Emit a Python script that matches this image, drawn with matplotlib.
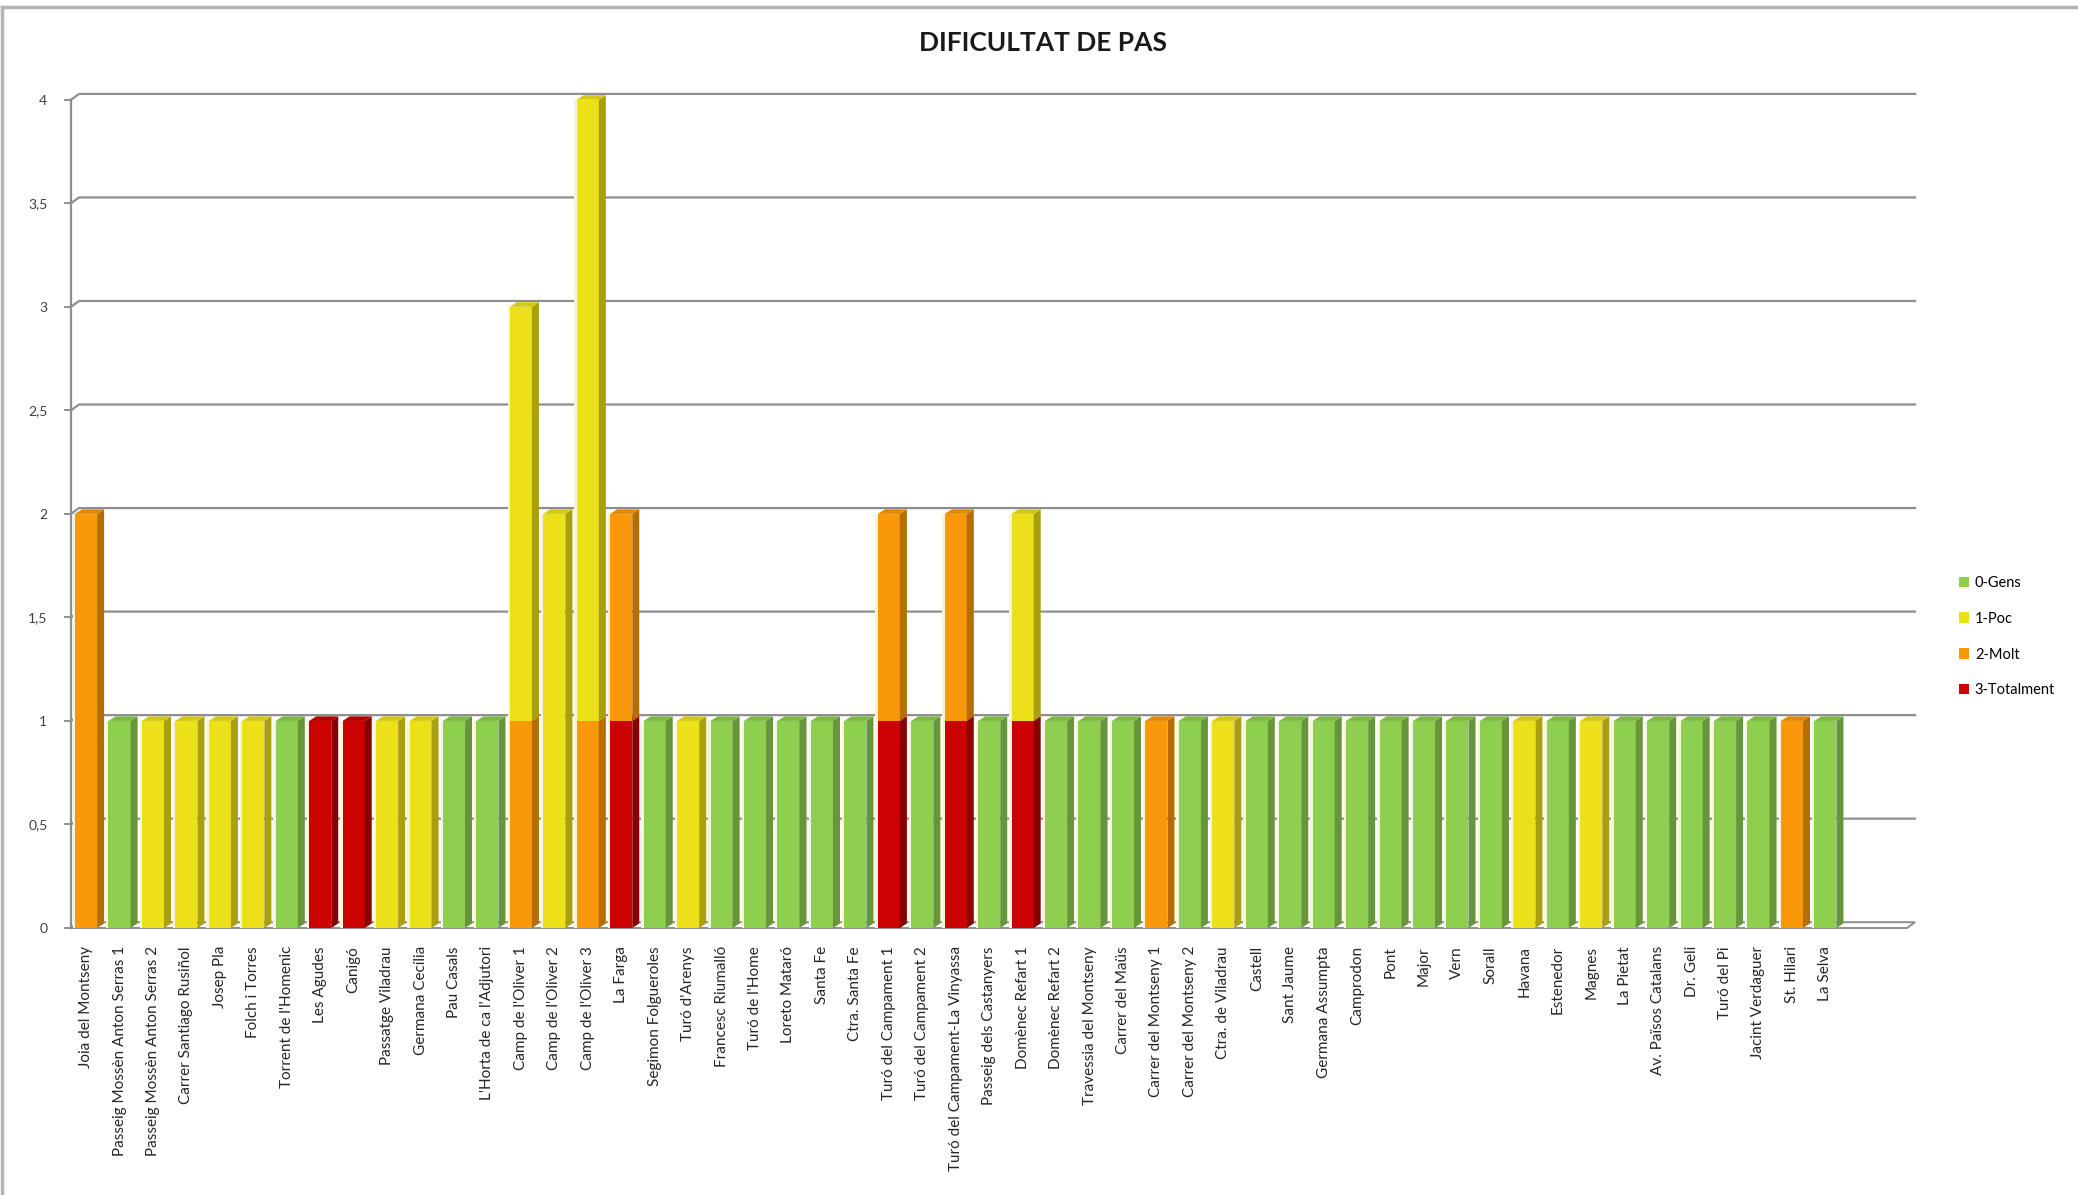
import numpy as np
import matplotlib
matplotlib.use("Agg")
import matplotlib.pyplot as plt
from matplotlib.patches import Polygon, Patch
from matplotlib.lines import Line2D

plt.rcParams['font.family'] = ['Lato', 'DejaVu Sans']

# Passos i nombre de respostes per nivell de dificultat
carrers = [
    "Joia del Montseny", "Passeig Mossèn Anton Serras 1", "Passeig Mossèn Anton Serras 2",
    "Carrer Santiago Rusiñol", "Josep Pla", "Folch i Torres", "Torrent de l'Homenic",
    "Les Agudes", "Canigó", "Passatge Viladrau", "Germana Cecília", "Pau Casals",
    "L'Horta de ca l'Adjutori", "Camp de l'Oliver 1", "Camp de l'Oliver 2",
    "Camp de l'Oliver 3", "La Farga", "Segimon Folgueroles", "Turó d'Arenys",
    "Francesc Riumalló", "Turó de l'Home", "Loreto Mataró", "Santa Fe", "Ctra. Santa Fe",
    "Turó del Campament 1", "Turó del Campament 2", "Turó del Campament-La Vinyassa",
    "Passeig dels Castanyers", "Domènec Refart 1", "Domènec Refart 2",
    "Travessia del Montseny", "Carrer del Maüs", "Carrer del Montseny 1",
    "Carrer del Montseny 2", "Ctra. de Viladrau", "Castell", "Sant Jaume",
    "Germana Assumpta", "Camprodon", "Pont", "Major", "Vern", "Sorall", "Havana",
    "Estenedor", "Magnes", "La Pietat", "Av. Països Catalans", "Dr. Geli",
    "Turó del Pi", "Jacint Verdaguer", "St. Hilari", "La Selva",
]
gens =      [0, 1, 0, 0, 0, 0, 1, 0, 0, 0, 0, 1, 1, 0, 0, 0, 0, 1, 0, 1, 1, 1, 1, 1, 0, 1, 0,
             1, 0, 1, 1, 1, 0, 1, 0, 1, 1, 1, 1, 1, 1, 1, 1, 0, 1, 0, 1, 1, 1, 1, 1, 0, 1]
poc =       [0, 0, 1, 1, 1, 1, 0, 0, 0, 1, 1, 0, 0, 2, 2, 3, 0, 0, 1, 0, 0, 0, 0, 0, 0, 0, 0,
             0, 1, 0, 0, 0, 0, 0, 1, 0, 0, 0, 0, 0, 0, 0, 0, 1, 0, 1, 0, 0, 0, 0, 0, 0, 0]
molt =      [2, 0, 0, 0, 0, 0, 0, 0, 0, 0, 0, 0, 0, 1, 0, 1, 1, 0, 0, 0, 0, 0, 0, 0, 1, 0, 1,
             0, 0, 0, 0, 0, 1, 0, 0, 0, 0, 0, 0, 0, 0, 0, 0, 0, 0, 0, 0, 0, 0, 0, 0, 1, 0]
totalment = [0, 0, 0, 0, 0, 0, 0, 1, 1, 0, 0, 0, 0, 0, 0, 0, 1, 0, 0, 0, 0, 0, 0, 0, 1, 0, 1,
             0, 1, 0, 0, 0, 0, 0, 0, 0, 0, 0, 0, 0, 0, 0, 0, 0, 0, 0, 0, 0, 0, 0, 0, 0, 0]

nivells = ["0-Gens", "1-Poc", "2-Molt", "3-Totalment"]

# colors: cara frontal, lateral, superior
colors = {
    "0-Gens": ("#8fcf4f", "#66953a", "#7fb845"),
    "1-Poc": ("#ebe01a", "#a99f10", "#d3c815"),
    "2-Molt": ("#f8980a", "#b56d05", "#e08a08"),
    "3-Totalment": ("#cc0202", "#880000", "#b00000"),
}

# l'apilament va de baix a dalt: 3, 2, 1, 0
pila = [("3-Totalment", totalment), ("2-Molt", molt), ("1-Poc", poc), ("0-Gens", gens)]

fig = plt.figure(figsize=(20.78, 11.95), dpi=100)
ax = fig.add_axes([71 / 2078, 1 - 928 / 1195, (1907 - 71) / 2078, (928 - 79) / 1195])

x = np.arange(len(carrers))
x0, x1 = -0.45, 54.44
ax.set_xlim(x0, x1)
ax.set_ylim(0, 4.1)

# profunditat de la perspectiva
dx, dy = 0.24, 0.028
grid_c = "#8e8e8e"

# paret del fons amb la graella
for yv in np.arange(0.5, 4.01, 0.5):
    ax.plot([x0, x0 + dx, x1 + dx], [yv, yv + dy, yv + dy], color=grid_c, lw=1.6,
            clip_on=False, zorder=1)
# terra
ax.add_patch(Polygon([(x0, 0), (x1, 0), (x1 + dx, dy), (x0 + dx, dy)], closed=True,
                     facecolor="white", edgecolor=grid_c, lw=1.4, clip_on=False, zorder=1))

w = 0.66
sd, sh = 0.21, 0.022
for i in x:
    base = 0
    for nom, vals in pila:
        h = vals[i]
        if h <= 0:
            continue
        front, side, top = colors[nom]
        left, right = i - w / 2, i + w / 2
        # reflex clar a l'esquerra de la barra
        ax.add_patch(Polygon([(left - 0.07, base), (left, base), (left, base + h),
                              (left - 0.07, base + h)], closed=True,
                             facecolor="#f7f5d8", edgecolor="none", zorder=2))
        ax.add_patch(Polygon([(left, base), (right, base), (right, base + h), (left, base + h)],
                             closed=True, facecolor=front, edgecolor="none", zorder=3))
        ax.add_patch(Polygon([(right, base), (right + sd, base + sh), (right + sd, base + h + sh),
                              (right, base + h)], closed=True, facecolor=side,
                             edgecolor="none", zorder=3))
        ax.add_patch(Polygon([(left, base + h), (right, base + h), (right + sd, base + h + sh),
                              (left + sd, base + h + sh)], closed=True, facecolor=top,
                             edgecolor="none", zorder=3))
        base += h

# eixos
for s in ["top", "right", "bottom"]:
    ax.spines[s].set_visible(False)
ax.spines["left"].set_color(grid_c)
ax.spines["left"].set_linewidth(1.6)
ax.spines["left"].set_bounds(0, 4)
ax.plot([x0, x0 + dx], [0, dy], color=grid_c, lw=1.6, clip_on=False, zorder=1)

yt = np.arange(0, 4.01, 0.5)
ax.set_yticks(yt)
ax.set_yticklabels([f"{v:g}".replace(".", ",") for v in yt], fontsize=10, color="#404040")
ax.tick_params(axis="y", length=5, width=1.4, color=grid_c, pad=12)

ax.set_xticks(x)
ax.set_xticklabels(carrers, rotation=90, fontsize=11, color="#262626")
ax.tick_params(axis="x", length=0, pad=13)
ax.set_facecolor("none")

fig.text(1043 / 2078, 1 - 43 / 1195, "DIFICULTAT DE PAS", ha="center", va="center",
         fontsize=19, fontweight="bold", color="#1a1a1a")

handles = [Patch(facecolor=colors[n][0], edgecolor="none") for n in nivells]
fig.legend(handles, nivells, loc="upper left", bbox_to_anchor=(1953 / 2078, 1 - 570 / 1195),
           frameon=False, fontsize=10.5, handlelength=0.7, handleheight=0.7,
           handletextpad=0.4, labelspacing=1.5, borderaxespad=0)

# marc del gràfic
fig.add_artist(Line2D([2 / 2078, 1], [1 - 7 / 1195, 1 - 7 / 1195], color="#b4b4b4", lw=2.5))
fig.add_artist(Line2D([2 / 2078, 2 / 2078], [0, 1 - 7 / 1195], color="#b4b4b4", lw=2.5))

fig.savefig("out.png", dpi=100, facecolor="white")
